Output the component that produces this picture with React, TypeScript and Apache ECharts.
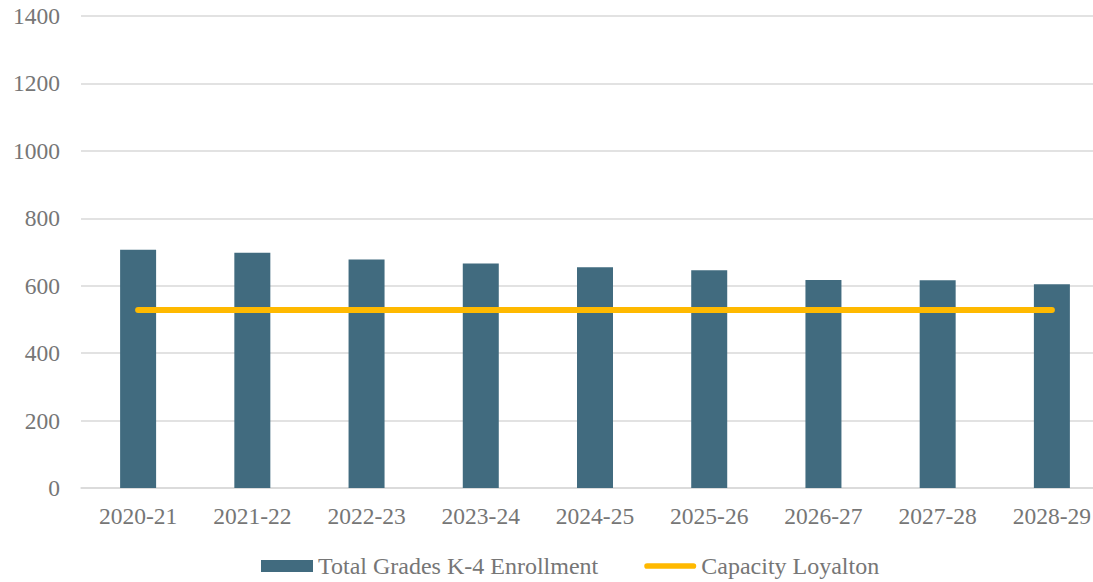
import React, { useEffect, useRef } from "react";
import * as echarts from "echarts";

const categories = ["2020-21", "2021-22", "2022-23", "2023-24", "2024-25", "2025-26", "2026-27", "2027-28", "2028-29"];
const enrollment = [707, 698, 678, 666, 655, 646, 617, 616, 604];
const capacity = [528, 528, 528, 528, 528, 528, 528, 528, 528];
const yTicks = { min: 0, max: 1400, interval: 200 };

const FONT = "Liberation Serif";
const GREY = "#767676";

export default function App() {
  const ref = useRef<HTMLDivElement>(null);
  useEffect(() => {
    if (!ref.current) return;
    const chart = echarts.init(ref.current, undefined, { renderer: "svg" });
    chart.setOption({
      animation: false,
      grid: { left: 81, top: 16, right: 0, bottom: 94, containLabel: false },
      legend: {
        bottom: -1,
        left: 256,
        itemGap: 46,
        itemWidth: 52,
        itemHeight: 12,
        textStyle: { fontFamily: FONT, fontSize: 24, color: GREY },
        data: [
          { name: "Total Grades K-4 Enrollment", icon: "rect" },
          { name: "Capacity Loyalton", icon: "path://M3,0 L52,0 A3,3 0 0 1 52,6 L3,6 A3,3 0 0 1 3,0 Z" },
        ],
      },
      xAxis: {
        type: "category",
        data: categories,
        axisLine: { show: true, lineStyle: { color: "#D9D9D9", width: 1.5 } },
        axisTick: { show: false },
        axisLabel: { fontFamily: FONT, fontSize: 23.5, color: GREY, margin: 16 },
      },
      yAxis: {
        type: "value",
        min: yTicks.min,
        max: yTicks.max,
        interval: yTicks.interval,
        axisLine: { show: false },
        axisTick: { show: false },
        splitLine: { lineStyle: { color: "#D9D9D9", width: 1.5 } },
        axisLabel: { fontFamily: FONT, fontSize: 23.5, color: GREY, margin: 21, formatter: (v: number) => String(v) },
      },
      series: [
        {
          name: "Total Grades K-4 Enrollment",
          type: "bar",
          data: enrollment,
          barWidth: 36,
          itemStyle: { color: "#416B7F" },
        },
        {
          name: "Capacity Loyalton",
          type: "line",
          data: capacity,
          symbol: "none",
          lineStyle: { color: "#FFB900", width: 6, cap: "round" },
          itemStyle: { color: "#FFB900" },
        },
      ],
    });
    return () => chart.dispose();
  }, []);
  return (
    <div style={{ position: "fixed", left: 0, top: 0, width: 1093, height: 582, overflow: "hidden", background: "#fff" }}>
      <div ref={ref} style={{ width: 1109, height: 582 }} />
    </div>
  );
}
